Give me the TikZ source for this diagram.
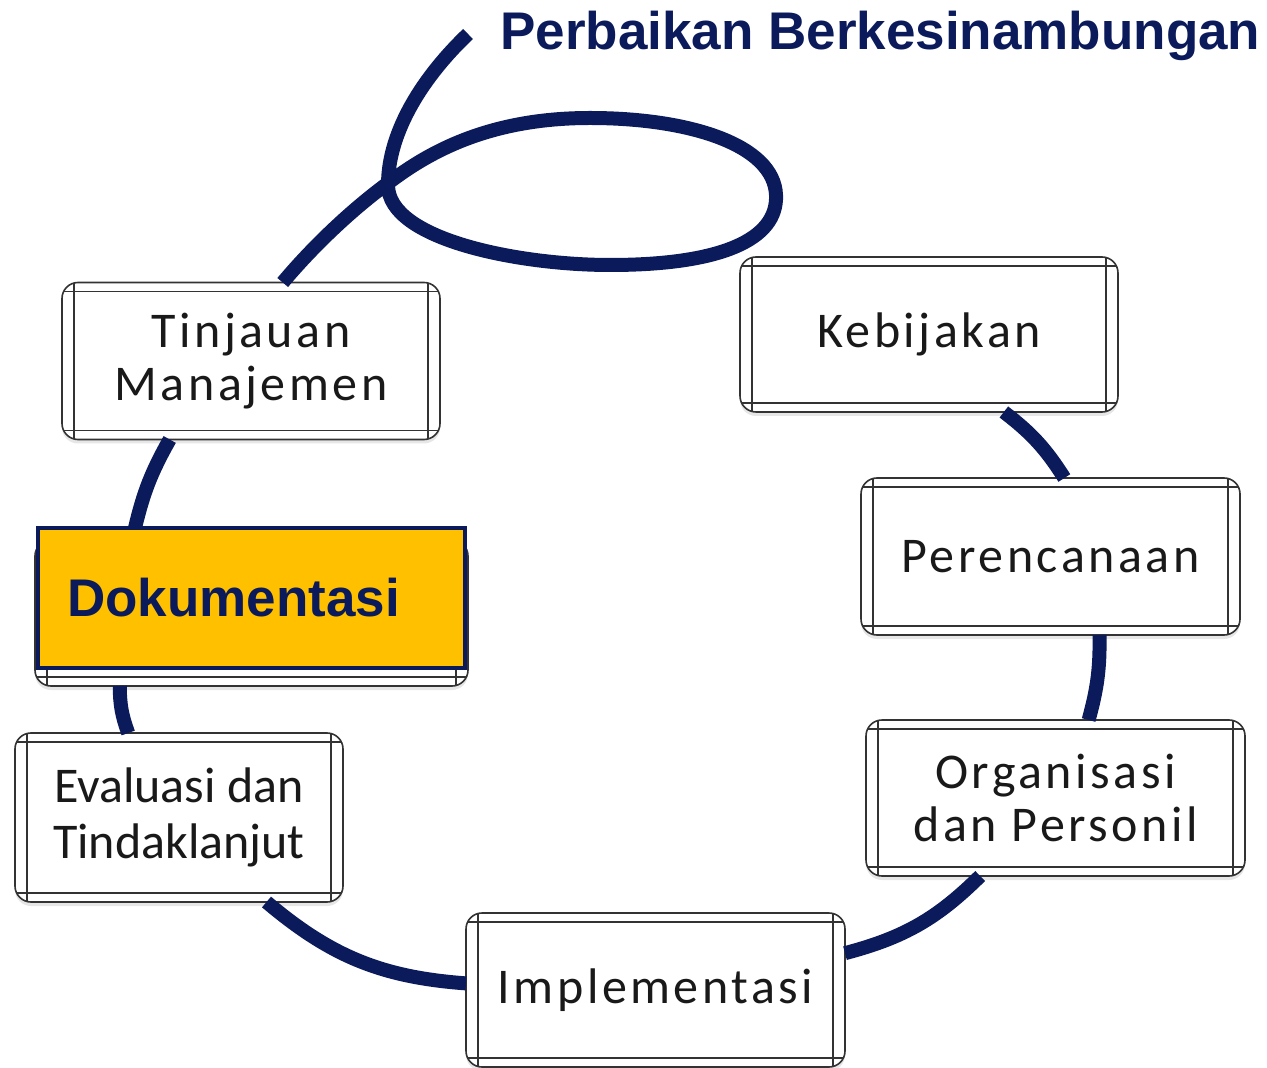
\documentclass[tikz,border=0pt]{standalone}
\usepackage{fontspec}
\setmainfont{Carlito}
\newfontfamily\headfont{Liberation Sans}
\newfontfamily\boxfont[LetterSpace=7]{Carlito}
\usetikzlibrary{shadows}
\definecolor{navy}{RGB}{11,26,90}
\definecolor{kuning}{RGB}{255,192,0}

\begin{document}
\begin{tikzpicture}[x=0.5pt,y=-0.5pt,
  box/.style={draw=black!80,line width=0.8pt,rounded corners=8pt,fill=white,
    outer sep=0pt,align=center,text=black!90,
    font=\boxfont\fontsize{25}{26.5}\selectfont,
    drop shadow={shadow xshift=0pt,shadow yshift=-2pt,opacity=0.2},
    path picture={\draw[black!80,line width=0.7pt]
      ([yshift=-4.5pt]path picture bounding box.north west) -- ([yshift=-4.5pt]path picture bounding box.north east)
      ([yshift=4.5pt]path picture bounding box.south west) -- ([yshift=4.5pt]path picture bounding box.south east)
      ([xshift=6pt]path picture bounding box.north west) -- ([xshift=6pt]path picture bounding box.south west)
      ([xshift=-6pt]path picture bounding box.north east) -- ([xshift=-6pt]path picture bounding box.south east);}},
  dokbox/.style={draw=navy,line width=2pt,fill=kuning,outer sep=0pt,
    minimum width=213.5pt,minimum height=70pt,inner xsep=14.5pt,
    text width=184.5pt,align=left,text=navy,
    font=\headfont\bfseries\fontsize{26.5}{28}\selectfont},
  judul/.style={text=navy,inner sep=0pt,font=\headfont\bfseries\fontsize{26.5}{28}\selectfont},
  loopline/.style={draw=navy,line width=7pt}]
\useasboundingbox (0,0) rectangle (1267,1068);

% kotak-kotak siklus
\node[box,minimum width=189pt,minimum height=78.5pt](tinjauan) at (251,361) {Tinjauan\\Manajemen};
\node[box,minimum width=189pt,minimum height=77.5pt](kebijakan) at (929,334.5) {Kebijakan};
\node[box,minimum width=189.5pt,minimum height=78.5pt](perencanaan) at (1050.5,556.5) {Perencanaan};
\node[box,minimum width=189.5pt,minimum height=78pt](organisasi) at (1055.5,798) {Organisasi\\dan Personil};
\node[box,minimum width=189.5pt,minimum height=77pt](implementasi) at (655.5,990) {Implementasi};
\node[box,minimum width=164pt,minimum height=84.5pt,font=\fontsize{25}{28}\selectfont](evaluasi) at (179,817.5) {Evaluasi dan\\Tindaklanjut};
\node[box,minimum width=216.5pt,minimum height=73pt](dokback) at (251.5,613) {};
\node[dokbox](dok) at (251.5,598) {Dokumentasi};

\node[judul,anchor=base west](judul) at (500,50) {Perbaikan Berkesinambungan};
\coordinate (ekor) at (468,34);

% garis siklus
\draw[loopline] (ekor) .. controls (425,75) and (388,130) .. (388,185)
  .. controls (388,240) and (520,265) .. (610,265)
  .. controls (720,265) and (778,240) .. (776,195)
  .. controls (774,145) and (690,118) .. (590,118)
  .. controls (500,118) and (440,145) .. (395,178)
  .. controls (350,210) and (310,250) .. (tinjauan.68);
\draw[loopline] (tinjauan.224) to[bend right=8] (dok.149);
\draw[loopline] (dokback.209) to[bend right=10] (evaluasi.121);
\draw[loopline] (evaluasi.-44) to[bend right=18] (implementasi.178);
\draw[loopline] (implementasi.11) to[bend right=15] (organisasi.226);
\draw[loopline] (organisasi.67) to[bend right=8] (perencanaan.-58);
\draw[loopline] (perencanaan.80) to[bend right=10] (kebijakan.-46);

\end{tikzpicture}
\end{document}
